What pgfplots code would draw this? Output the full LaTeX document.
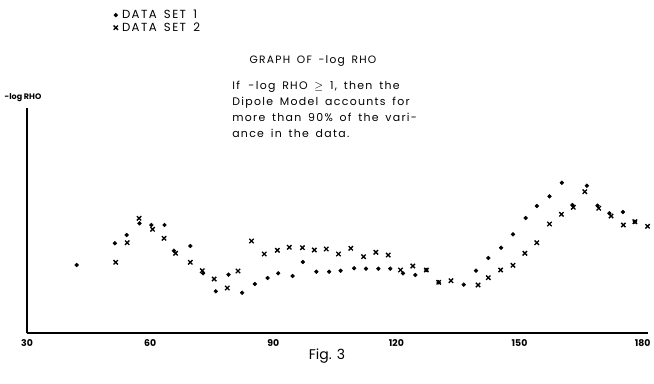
\documentclass[border=0pt]{standalone}
\usepackage{pgfplots}
\pgfplotsset{compat=1.18}
\usepackage{fontspec}
\setmainfont{Poppins}
\newfontfamily\lettering{Poppins}[LetterSpace=12, WordSpace=1.6]
\begin{document}
\begin{tikzpicture}
\useasboundingbox (0,0) rectangle (490.5pt,287.25pt);
\begin{axis}[
  at={(20.25pt,37.5pt)}, anchor=south west,
  width=465.75pt, height=168.75pt, scale only axis,
  xmin=30, xmax=181.3, ymin=0, ymax=225,
  axis x line=bottom, axis y line=left,
  axis line style={-, line width=1.3pt},
  xtick={30,60,90,120,150,180}, ytick=\empty,
  major tick length=0pt,
  xticklabel style={font=\fontsize{7}{8}\selectfont\bfseries, yshift=-1pt},
  /pgf/number format/assume math mode=true,
  clip=false,
  legend style={at={(0.137,1.455)}, anchor=north west, draw=none, fill=none,
    font=\lettering\fontsize{8.8}{9}\selectfont, row sep=-2.5pt, inner sep=1pt,
    nodes={inner xsep=3pt}},
  legend cell align=left,
]
\addplot[only marks, mark=*, mark size=1.4pt, black] coordinates {
(42.1,68) (51.4,89.7) (54.3,98) (57.4,109.7) (60.3,108) (63.5,108)
(65.8,82.3) (69.8,87) (72.9,59.7) (76.0,41.7) (79.1,58.3) (82.4,40.3)
(85.5,49) (88.6,55) (91.2,59.7) (94.7,57) (97.2,71) (100.5,61.3)
(103.6,61.3) (106.4,62.3) (109.7,64.7) (112.6,64.3) (115.6,64.3) (118.5,64.3)
(121.6,59.7) (124.6,58) (127.3,63) (130.3,50.7) (136.4,48.3) (139.4,62.3)
(142.4,75) (145.5,85.3) (148.4,98.7) (151.5,115) (154.2,127) (157.3,136.7)
(160.3,150.3) (162.9,128) (166.4,147.3) (169.0,127.3) (171.9,119.7) (175.2,121)
(178.1,111.3)
};
\addlegendentry{DATA SET 1}
\addplot[only marks, mark=x, mark size=2.3pt, black, line width=1pt] coordinates {
(51.6,70.7) (54.4,90.3) (57.3,114.7) (60.6,103.7) (63.4,94.7) (66.2,79.7)
(69.8,70.7) (72.7,62.3) (75.6,54) (78.8,45) (81.4,62) (84.7,92)
(87.8,79) (91.0,82.7) (93.9,85.7) (97.1,85.3) (100.0,83) (102.9,84)
(105.9,79) (108.9,84.7) (112.0,76.3) (115.0,80.7) (118.0,78) (121.0,63)
(124.0,67) (127.3,63) (130.3,50.7) (133.3,52.3) (139.9,48) (142.4,55.3)
(145.4,63) (148.4,67.7) (151.3,79.7) (154.2,90.3) (157.3,109) (160.2,118.7)
(163.1,125.7) (165.9,141.3) (169.3,124.7) (172.3,117) (175.3,108) (178.1,111.3)
(181.2,106.7)
};
\addlegendentry{DATA SET 2}
\end{axis}
\begin{scope}[x=0.75pt, y=-0.75pt, yshift=287.25pt]
\node[font=\fontsize{6}{7}\selectfont\bfseries] at (23,98) {-log RHO};
\node[font=\lettering\fontsize{8}{9}\selectfont] at (313,61) {GRAPH OF -log RHO};
\node[font=\lettering\fontsize{8.2}{12}\selectfont, align=left, anchor=north west, inner sep=0pt] at (232,81)
  {If \,-log RHO $\geq$ 1, then the\\Dipole Model accounts for\\more than 90\% of the vari-\\ance in the data.};
\node[font=\fontsize{10.5}{12}\selectfont] at (327,356) {Fig. 3};
\end{scope}
\end{tikzpicture}
\end{document}
